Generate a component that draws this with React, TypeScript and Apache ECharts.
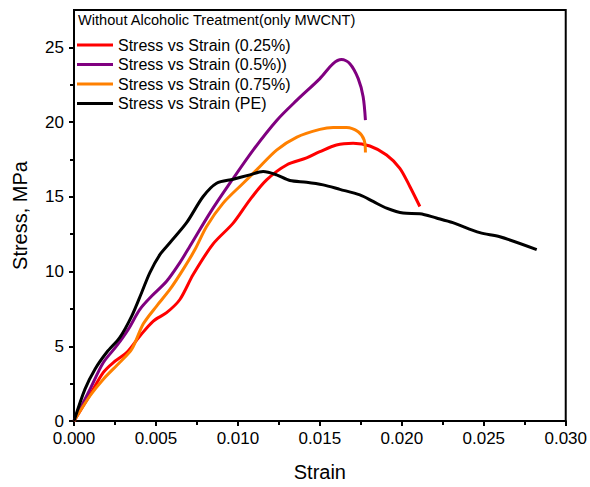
import React, { useEffect, useRef } from "react";
import * as echarts from "echarts";

const seriesNames = [
  "Stress vs Strain (0.25%)",
  "Stress vs Strain (0.5%))",
  "Stress vs Strain (0.75%)",
  "Stress vs Strain (PE)",
];
const seriesColors = ["#FF0000", "#800080", "#FF8000", "#000000"];

const red: [number, number][] = [
  [0, 0], [0.001, 1.8], [0.00179, 3.25], [0.0024, 3.91], [0.00321, 4.58],
  [0.00402, 5.69], [0.00484, 6.69], [0.00565, 7.25], [0.00646, 8.13],
  [0.00727, 9.8], [0.00849, 11.85], [0.00971, 13.24], [0.01073, 14.8],
  [0.01175, 16.13], [0.01297, 17.13], [0.01419, 17.6], [0.015, 18.02],
  [0.01601, 18.47], [0.01703, 18.58], [0.01805, 18.4], [0.01907, 17.8],
  [0.01988, 16.91], [0.02049, 15.69], [0.0211, 14.35],
];
const purple: [number, number][] = [
  [0, 0], [0.00098, 2.13], [0.00179, 3.91], [0.0026, 5.02], [0.00331, 6.13],
  [0.00402, 7.47], [0.00474, 8.36], [0.00565, 9.35], [0.00646, 10.6],
  [0.00707, 11.69], [0.00829, 13.91], [0.00951, 15.91], [0.01093, 18.13],
  [0.01238, 20.13], [0.0136, 21.47], [0.015, 22.91], [0.01581, 23.91],
  [0.01632, 24.18], [0.01683, 23.91], [0.01734, 22.91], [0.01764, 21.69],
  [0.01778, 20.13],
];
const orange: [number, number][] = [
  [0, 0], [0.00098, 1.69], [0.00179, 2.8], [0.0028, 3.93], [0.00352, 4.8],
  [0.00423, 6.5], [0.00504, 7.69], [0.00585, 8.8], [0.00665, 10.13],
  [0.00738, 11.47], [0.00809, 13.02], [0.0091, 14.58], [0.01032, 15.91],
  [0.01114, 16.8], [0.01236, 18.13], [0.0136, 19.0], [0.015, 19.51],
  [0.01581, 19.64], [0.01663, 19.64], [0.01734, 19.35], [0.0177, 18.8],
  [0.01778, 17.96],
];
const black: [number, number][] = [
  [0, 0], [0.00067, 2.13], [0.00128, 3.47], [0.002, 4.6], [0.0028, 5.6],
  [0.00352, 7.02], [0.00413, 8.6], [0.00463, 9.93], [0.00524, 11.13],
  [0.00585, 11.93], [0.00687, 13.27], [0.00788, 15.02], [0.0087, 15.91],
  [0.00971, 16.18], [0.01073, 16.47], [0.01154, 16.69], [0.01236, 16.47],
  [0.01317, 16.09], [0.01419, 15.98], [0.0152, 15.8], [0.01622, 15.5],
  [0.01744, 15.13], [0.01825, 14.69], [0.01907, 14.24], [0.02008, 13.91],
  [0.0211, 13.87], [0.02211, 13.58], [0.02311, 13.27], [0.02476, 12.6],
  [0.02598, 12.33], [0.02823, 11.47],
];
const seriesData = [red, purple, orange, black];

const yMajorTicks = [0, 5, 10, 15, 20, 25];
const yMinorTicks = [2.5, 7.5, 12.5, 17.5, 22.5];

const FONT = "Liberation Sans, Arial, sans-serif";

export default function App() {
  const ref = useRef<HTMLDivElement>(null);
  useEffect(() => {
    if (!ref.current) return;
    const chart = echarts.init(ref.current, undefined, { renderer: "svg" });
    chart.setOption({
      animation: false,
      backgroundColor: "#fff",
      textStyle: { fontFamily: FONT },
      grid: {
        left: 74, right: 24, top: 10, bottom: 65,
        show: true, borderColor: "#000", borderWidth: 2, backgroundColor: "transparent",
      },
      title: {
        text: "Without Alcoholic Treatment(only MWCNT)",
        left: 78, top: 12,
        padding: 0,
        textStyle: { fontFamily: FONT, fontSize: 14.6, fontWeight: "normal", color: "#000" },
      },
      legend: {
        orient: "vertical",
        left: 77, top: 37,
        padding: 0,
        itemWidth: 36, itemHeight: 3, itemGap: 3.5,
        icon: "rect",
        data: seriesNames,
        textStyle: { fontFamily: FONT, fontSize: 16, lineHeight: 16, color: "#000" },
      },
      xAxis: {
        type: "value", min: 0, max: 0.03, interval: 0.005,
        name: "Strain", nameLocation: "middle", nameGap: 41,
        nameTextStyle: { fontFamily: FONT, fontSize: 20, color: "#000" },
        axisLine: { show: true, lineStyle: { color: "#000", width: 2 } },
        axisTick: { show: true, inside: false, length: 5, lineStyle: { color: "#000", width: 2 } },
        minorTick: { show: true, splitNumber: 2, length: 4, lineStyle: { color: "#000", width: 2 } },
        splitLine: { show: false },
        axisLabel: {
          fontFamily: FONT, fontSize: 17, color: "#000", margin: 9,
          formatter: (v: number) => v.toFixed(3),
        },
      },
      yAxis: [
        {
          type: "value", min: 0, max: 27.5,
          name: "Stress, MPa", nameLocation: "middle", nameGap: 44,
          nameTextStyle: { fontFamily: FONT, fontSize: 20, color: "#000" },
          axisLine: { show: true, lineStyle: { color: "#000", width: 2 } },
          axisTick: { show: true, length: 5, customValues: yMajorTicks, lineStyle: { color: "#000", width: 2 } },
          splitLine: { show: false },
          axisLabel: {
            fontFamily: FONT, fontSize: 17, color: "#000", margin: 10,
            customValues: yMajorTicks,
          },
        },
        {
          type: "value", min: 0, max: 27.5, position: "left",
          axisLine: { show: false },
          axisTick: { show: true, length: 4, customValues: yMinorTicks, lineStyle: { color: "#000", width: 2 } },
          axisLabel: { show: false },
          splitLine: { show: false },
        },
      ],
      series: seriesData.map((d, i) => ({
        name: seriesNames[i],
        type: "line",
        data: d,
        smooth: 0.3,
        showSymbol: false,
        symbol: "none",
        yAxisIndex: 0,
        color: seriesColors[i],
        lineStyle: { color: seriesColors[i], width: 3 },
      })),
    });
    return () => chart.dispose();
  }, []);
  return <div ref={ref} style={{ width: 590, height: 487, position: "absolute", left: 0, top: 0 }} />;
}
